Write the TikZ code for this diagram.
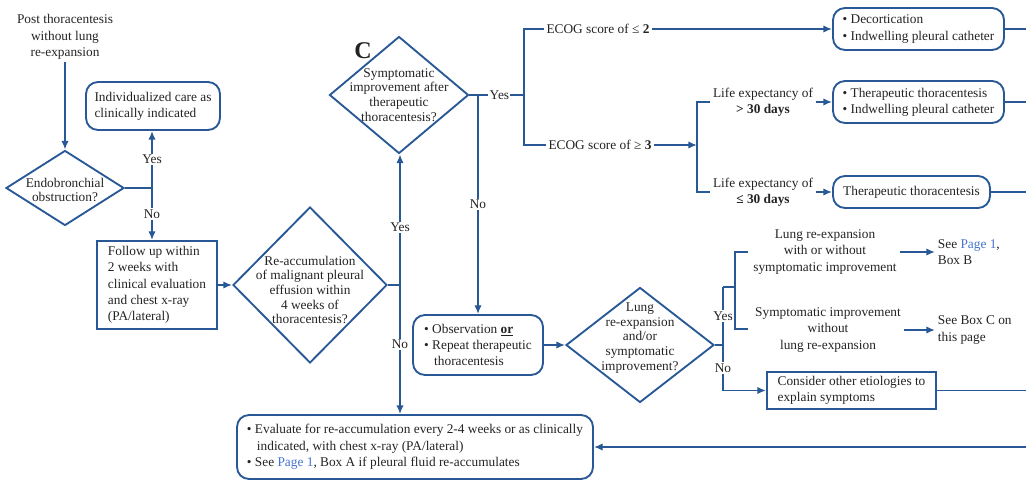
\documentclass[tikz,border=0pt]{standalone}
\usepackage{fontspec}
\setmainfont{Liberation Serif}
\usepackage{xcolor}
\usepackage{tikz}
\usetikzlibrary{shapes.geometric, arrows.meta}
\definecolor{lineblue}{RGB}{40, 88, 150}
\definecolor{linkblue}{RGB}{70, 115, 205}
\definecolor{textgray}{RGB}{35, 35, 35}
\newcommand{\pageone}{\textcolor{linkblue}{Page 1}}

\begin{document}
\begin{tikzpicture}[x=0.75pt, y=-0.75pt,
    conn/.style={draw=lineblue, line width=1.4pt},
    arr/.style={conn, -{Latex[length=6.5pt, width=5.5pt]}},
    txt/.style={text=textgray, font=\fontsize{10}{12.2}\selectfont, align=center, inner sep=2pt},
    dtxt/.style={txt, font=\fontsize{10}{11}\selectfont},
    box/.style={txt, draw=lineblue, line width=1.4pt, rectangle, align=left},
    rbox/.style={box, rounded corners=9pt},
    dia/.style={draw=lineblue, line width=1.4pt, diamond, inner sep=0pt},
    yn/.style={txt, fill=white, inner sep=1pt}]
    \useasboundingbox (0,0) rectangle (1026,481);

    % left part
    \node[txt] (post) at (65,37) {Post thoracentesis\\without lung\\re-expansion};
    \node[dia, minimum width=88.5pt, minimum height=56.25pt] (endo) at (65,188) {};
    \node[dtxt] (endo-t) at (65,190) {Endobronchial\\obstruction?};
    \node[rbox, minimum width=100.5pt, minimum height=36pt] (indiv) at (153,106) {Individualized care as\\clinically indicated};
    \node[box, minimum width=90pt, minimum height=66pt] (follow) at (157,285) {Follow up within\\2 weeks with\\clinical evaluation\\and chest x-ray\\(PA/lateral)};
    \node[dia, minimum width=115.5pt, minimum height=117pt] (reacc) at (310,285) {};
    \node[dtxt] (reacc-t) at (310,290) {Re-accumulation\\of malignant pleural\\effusion within\\4 weeks of\\thoracentesis?};

    % box C
    \node[dia, minimum width=104.25pt, minimum height=87.75pt] (sympc) at (399,95) {};
    \node[dtxt] (sympc-t) at (399,95) {Symptomatic\\improvement after\\therapeutic\\thoracentesis?};
    \node[text=textgray, font=\fontsize{18}{18}\selectfont\bfseries] (boxc) at (363,51) {C};
    \node[txt] (ecog1) at (598,29) {ECOG score of ≤ \textbf{2}};
    \node[txt] (ecog2) at (600,145) {ECOG score of ≥ \textbf{3}};
    \node[txt] (life1) at (763,102) {Life expectancy of\\\textbf{> 30 days}};
    \node[txt] (life2) at (763,192) {Life expectancy of\\\textbf{≤ 30 days}};
    \node[rbox, minimum width=128.25pt, minimum height=31.5pt] (decort) at (918.5,29) {\textbullet\ Decortication\\\textbullet\ Indwelling pleural catheter};
    \node[rbox, minimum width=128.25pt, minimum height=31.5pt] (thera2) at (918.5,102) {\textbullet\ Therapeutic thoracentesis\\\textbullet\ Indwelling pleural catheter};
    \node[rbox, minimum width=117.75pt, minimum height=24pt] (thera1) at (911.5,192) {Therapeutic thoracentesis};

    % lower part
    \node[rbox, minimum width=97.5pt, minimum height=45pt] (obs) at (478,345) {\textbullet\ Observation \textbf{\underline{or}}\\\textbullet\ Repeat therapeutic\\\hspace*{0.75em}thoracentesis};
    \node[dia, minimum width=111pt, minimum height=86.25pt] (lung) at (640,345) {};
    \node[dtxt] (lung-t) at (640,338) {Lung\\re-expansion\\and/or\\symptomatic\\improvement?};
    \node[txt] (lungre) at (825,252) {Lung re-expansion\\with or without\\symptomatic improvement};
    \node[txt] (sympimp) at (828,330) {Symptomatic improvement\\without\\lung re-expansion};
    \node[txt, align=left, anchor=west] (seeb) at (935,252) {See \pageone,\\Box B};
    \node[txt, align=left, anchor=west] (seec) at (935,330) {See Box C on\\this page};
    \node[box, minimum width=126.75pt, minimum height=27.75pt] (consider) at (851.5,390.5) {Consider other etiologies to\\explain symptoms};
    \node[rbox, minimum width=267pt, minimum height=48pt] (eval) at (415,447) {\textbullet\ Evaluate for re-accumulation every 2-4 weeks or as clinically\\\hspace*{0.75em}indicated, with chest x-ray (PA/lateral)\\\textbullet\ See \pageone, Box A if pleural fluid re-accumulates};

    \coordinate (j1) at (152,188);
    \coordinate (j2) at (400,285);
    \coordinate (j3) at (524,95);
    \coordinate (j4) at (478,95);
    \coordinate (j5) at (697,145);
    \coordinate (j6) at (723,345);
    \coordinate (j7) at (723,287);
    \coordinate (j8) at (735,287);
    \coordinate (b1) at (748,252);
    \coordinate (b2) at (748,329);
    \coordinate (edge) at (1026,0);

    \draw[arr] (post) -- (endo);
    \draw[conn] (endo) -- (j1);
    \draw[arr] (j1) -- node[yn] {Yes} (j1 |- indiv.south);
    \draw[arr] (j1) -- node[yn] {No} (j1 |- follow.north);
    \draw[arr] (follow) -- (reacc);
    \draw[conn] (reacc) -- (j2);
    \draw[arr] (j2) -- node[yn, pos=0.44] {Yes} (j2 |- sympc.south);
    \draw[arr] (j2) -- node[yn, pos=0.46] {No} (j2 |- eval.north);

    \draw[conn] (sympc) -- node[yn, pos=0.55] {Yes} (j3);
    \draw[arr] (j4) -- node[yn] {No} (j4 |- obs.north);
    \draw[conn] (ecog1.west) -| (j3) |- (ecog2.west);
    \draw[arr] (ecog1) -- (decort);
    \draw[arr] (ecog2) -- (j5);
    \draw[conn] (life1.west) -| (j5) |- (life2.west);
    \draw[arr] (life1) -- (thera2);
    \draw[arr] (life2) -- (thera1);
    \draw[conn] (decort) -- (decort -| edge);
    \draw[conn] (thera2) -- (thera2 -| edge);
    \draw[conn] (thera1) -- (thera1 -| edge);

    \draw[arr] (obs) -- (lung);
    \draw[conn] (lung) -- (j6);
    \draw[conn] (j6) -- node[yn] {Yes} (j7);
    \draw[arr] (j6) |- node[yn, pos=0.25] {No} (consider);
    \draw[conn] (j7) -- (j8);
    \draw[conn] (b1) -| (j8) |- (b2);
    \draw[arr] (lungre) -- (seeb);
    \draw[arr] (sympimp) -- (seec);
    \draw[conn] (consider) -- (consider -| edge);
    \draw[arr] (eval -| edge) -- (eval);
\end{tikzpicture}
\end{document}
